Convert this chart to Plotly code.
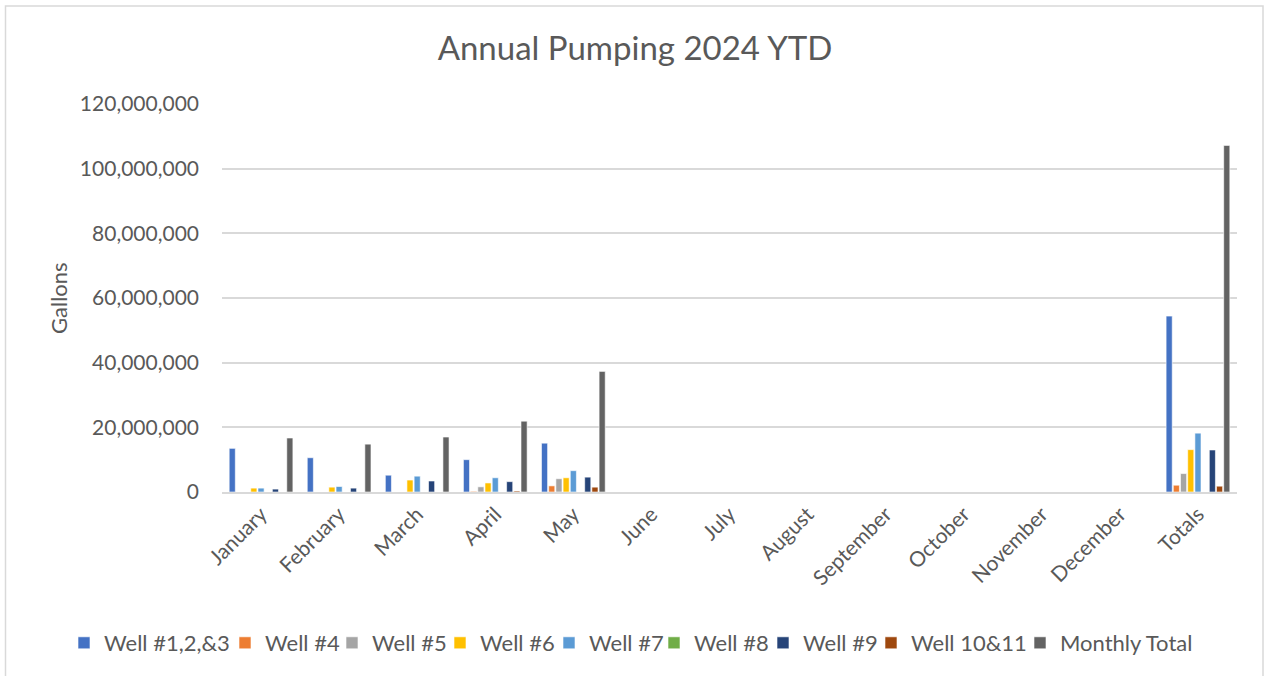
import plotly.graph_objects as go

categories = ["January", "February", "March", "April", "May", "June", "July",
              "August", "September", "October", "November", "December", "Totals"]

series_names = ["Well #1,2,&3", "Well #4", "Well #5", "Well #6", "Well #7",
                "Well #8", "Well #9", "Well 10&11", "Monthly Total"]

well_123 = [13500000, 10600000, 5200000, 10000000, 15100000, 0, 0, 0, 0, 0, 0, 0, 54400000]
well_4 = [0, 0, 0, 200000, 1900000, 0, 0, 0, 0, 0, 0, 0, 2100000]
well_5 = [0, 0, 0, 1600000, 4100000, 0, 0, 0, 0, 0, 0, 0, 5700000]
well_6 = [1200000, 1500000, 3700000, 2800000, 4400000, 0, 0, 0, 0, 0, 0, 0, 13100000]
well_7 = [1200000, 1700000, 4900000, 4400000, 6600000, 0, 0, 0, 0, 0, 0, 0, 18200000]
well_8 = [0, 0, 0, 0, 0, 0, 0, 0, 0, 0, 0, 0, 0]
well_9 = [900000, 1200000, 3400000, 3200000, 4600000, 0, 0, 0, 0, 0, 0, 0, 13000000]
well_10_11 = [0, 0, 0, 300000, 1500000, 0, 0, 0, 0, 0, 0, 0, 1800000]
monthly_total = [16700000, 14800000, 17000000, 21900000, 37300000, 0, 0, 0, 0, 0, 0, 0, 107200000]

series_values = [well_123, well_4, well_5, well_6, well_7, well_8, well_9, well_10_11, monthly_total]
colors = ["#4472C4", "#ED7D31", "#A5A5A5", "#FFC000", "#5B9BD5",
          "#70AD47", "#264478", "#9E480E", "#636363"]

y_ticks = [0, 20000000, 40000000, 60000000, 80000000, 100000000, 120000000]
y_tick_labels = ["0", "20,000,000", "40,000,000", "60,000,000", "80,000,000",
                 "100,000,000", "120,000,000"]

# left pixel of each legend entry's text in the reference
legend_text_x = [104, 265, 372, 480, 589, 694, 803, 911, 1060]

FONT = "Lato"
TXT = "#595959"

L, R, T, B = 222, 28, 104, 184
W, H = 1265, 676
pw, ph = W - L - R, H - T - B

fig = go.Figure()
legend_layout = {}
for i, (name, vals, col) in enumerate(zip(series_names, series_values, colors)):
    lg = "legend" if i == 0 else f"legend{i + 1}"
    fig.add_trace(go.Bar(x=categories, y=vals, name=name, legend=lg,
                         marker=dict(color=col, line=dict(color="white", width=0.6))))
    legend_layout[lg] = dict(
        orientation="h", x=(legend_text_x[i] - 40 - L) / pw, xanchor="left",
        y=(H - B - 643) / ph, yanchor="middle", bgcolor="rgba(0,0,0,0)",
        font=dict(size=22, color=TXT, family=FONT), itemwidth=30)

fig.update_layout(
    width=W, height=H,
    margin=dict(l=L, r=R, t=T, b=B),
    paper_bgcolor="white", plot_bgcolor="white",
    barmode="group", bargap=0.17, bargroupgap=0.15,
    font=dict(family=FONT, color=TXT, size=21),
    title=dict(text="Annual Pumping 2024 YTD", x=(635 - L) / pw, xref="paper",
               xanchor="center", y=1 - 48 / H, yanchor="middle",
               font=dict(size=33, color=TXT, family=FONT)),
    xaxis=dict(tickangle=-45, showgrid=False, showline=True, linecolor="#d9d9d9",
               linewidth=1.5, ticks="", tickfont=dict(size=21, color=TXT)),
    yaxis=dict(range=[0, 120000000], tickvals=y_ticks, ticktext=y_tick_labels,
               showgrid=True, gridcolor="#d9d9d9", gridwidth=1.5, zeroline=False,
               showline=False, ticks="", ticklabelstandoff=22,
               tickfont=dict(size=21, color=TXT)),
    showlegend=True,
    **legend_layout,
)

fig.add_annotation(text="Gallons", xref="paper", yref="paper",
                   x=(58 - L) / pw, y=(H - B - 298) / ph, textangle=-90,
                   showarrow=False, font=dict(size=22, color=TXT, family=FONT),
                   xanchor="center", yanchor="middle")

fig.add_shape(type="rect", xref="paper", yref="paper",
              x0=(5.5 - L) / pw, x1=(1263 - L) / pw,
              y0=(H - B - 690) / ph, y1=(H - B - 6) / ph,
              line=dict(color="#d9d9d9", width=1.5), fillcolor="rgba(0,0,0,0)",
              layer="below")

fig.write_html("out.html", config={"displayModeBar": False},
               post_script="document.body.style.margin='0';document.body.style.overflow='hidden';")
